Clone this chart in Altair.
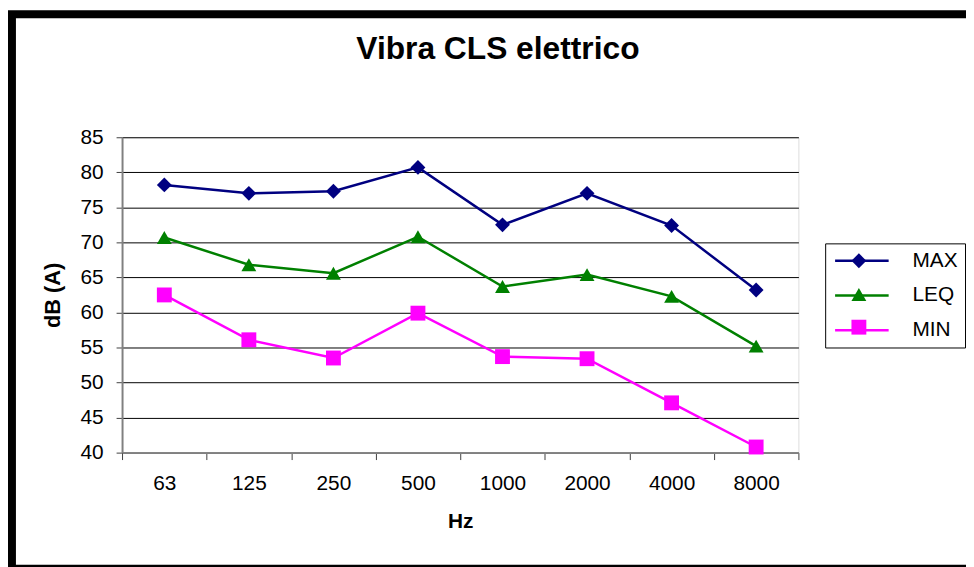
import altair as alt
import pandas as pd

FREQS = ["63", "125", "250", "500", "1000", "2000", "4000", "8000"]
SERIES = ["MAX", "LEQ", "MIN"]
COLORS = ["#000080", "#008000", "#FF00FF"]
SHAPES = ["diamond", "triangle-up", "square"]
MAX_DB = [78.2, 77.0, 77.3, 80.7, 72.5, 77.0, 72.4, 63.2]
LEQ_DB = [70.7, 66.8, 65.6, 70.8, 63.7, 65.4, 62.3, 55.2]
MIN_DB = [62.5, 56.1, 53.5, 59.9, 53.7, 53.4, 47.1, 40.8]
Y_TICKS = [40, 45, 50, 55, 60, 65, 70, 75, 80, 85]
TITLE = "Vibra CLS elettrico"
Y_TITLE = "dB (A)"
X_TITLE = "Hz"

MARKER_KEYS = [s + "_m" for s in SERIES]

rows = []
for name, key, vals in zip(SERIES, MARKER_KEYS, [MAX_DB, LEQ_DB, MIN_DB]):
    for f, v in zip(FREQS, vals):
        rows.append({"freq": f, "series": name, "marker": key, "db": v})
df = pd.DataFrame(rows)

FONT = "Liberation Sans"
W, H = 682, 318
PAD_L, PAD_T = 115, 128
TOTAL_W, TOTAL_H = 966, 559

x_enc = alt.X(
    "freq:N", sort=FREQS,
    scale=alt.Scale(type="band", paddingInner=0, paddingOuter=0),
    axis=alt.Axis(
        title=X_TITLE, labelAngle=0, tickBand="extent", grid=False,
        domainColor="#808080", domainWidth=2, tickColor="#404040", tickSize=7,
        labelFont=FONT, labelFontSize=21, labelColor="black", labelPadding=13,
        titleFont=FONT, titleFontSize=21, titleFontWeight="bold", titleColor="black",
        titlePadding=18,
    ),
)
y_enc = alt.Y(
    "db:Q",
    scale=alt.Scale(domain=[40, 85], nice=False, zero=False),
    axis=alt.Axis(
        values=Y_TICKS, title=Y_TITLE, grid=True, gridColor="black", gridWidth=1,
        labelOverlap=False,
        domainColor="#808080", domainWidth=2, tickColor="#404040", tickSize=6,
        labelFont=FONT, labelFontSize=21, labelColor="black", labelPadding=13,
        titleFont=FONT, titleFontSize=22, titleFontWeight="bold", titleColor="black",
        titlePadding=16,
    ),
)

line_legend = alt.Legend(
    title=None, orient="none", legendX=709, legendY=107,
    symbolType="M-1.0,0L6.2,0", symbolSize=225, symbolStrokeWidth=2.5,
    labelFont=FONT, labelFontSize=21, labelColor="black", labelOffset=60,
    rowPadding=13, padding=7, fillColor="white", strokeColor="black",
)

marker_legend = alt.Legend(
    title=None, orient="none", legendX=728.5, legendY=110,
    symbolSize=225, symbolStrokeWidth=0, symbolOpacity=1,
    labelExpr="''", labelFontSize=1,
    rowPadding=19, padding=7,
)

lines = alt.Chart(df).mark_line(strokeWidth=2.5).encode(
    x=x_enc,
    y=y_enc,
    color=alt.Color(
        "series:N",
        scale=alt.Scale(domain=SERIES, range=COLORS),
        legend=line_legend,
    ),
    order=alt.Order("freq_idx:Q"),
).transform_calculate(
    freq_idx="indexof(" + str(FREQS) + ", datum.freq)"
)

points = alt.Chart(df).mark_point(filled=True, size=225, opacity=1, strokeWidth=0).encode(
    x=x_enc,
    y=y_enc,
    fill=alt.Fill(
        "marker:N",
        scale=alt.Scale(domain=MARKER_KEYS, range=COLORS),
        legend=marker_legend,
    ),
    shape=alt.Shape(
        "marker:N",
        scale=alt.Scale(domain=MARKER_KEYS, range=SHAPES),
        legend=marker_legend,
    ),
)

frame = alt.Chart(alt.Data(values=[{"k": 1}])).mark_rect(
    fill=None, stroke="black", strokeWidth=8
).encode(
    x=alt.value(-PAD_L + 4), x2=alt.value(TOTAL_W + 20),
    y=alt.value(-PAD_T + 4), y2=alt.value(TOTAL_H - PAD_T + 4),
)

chart = alt.layer(frame, lines, points).properties(
    width=W, height=H,
    title=alt.TitleParams(
        TITLE, font=FONT, fontSize=32, fontWeight="bold", color="black",
        anchor="middle", dx=38, offset=-56,
    ),
    autosize=alt.AutoSizeParams(type="none"),
    padding={"left": PAD_L, "top": PAD_T, "right": TOTAL_W - PAD_L - W, "bottom": TOTAL_H - PAD_T - H},
).configure_view(
    stroke="#808080", strokeWidth=2
).configure(background="white")

chart.save("out.html", embed_options={"renderer": "svg", "actions": False})
